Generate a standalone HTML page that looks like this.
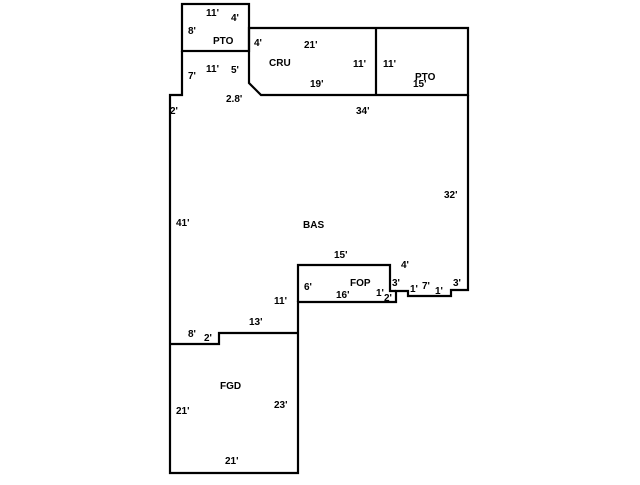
<!DOCTYPE html>
<html><head><style>body{margin:0;background:#fff}svg text{font-family:"Liberation Sans",sans-serif;font-weight:bold;font-size:10px;fill:#000}</style></head>
<body><svg width="640" height="480" viewBox="0 0 640 480" xmlns="http://www.w3.org/2000/svg">
<g fill="none" stroke="#000" stroke-width="2.2">
<rect x="182" y="4" width="67" height="47"/>
<path d="M249 28 H468 V95 H261 L249 83 Z"/>
<line x1="376" y1="28" x2="376" y2="95"/>
<path d="M182 51 V95 H170 V473 H298 V302 H396 V291 H408 V296 H451 V290 H468 V95"/>
<path d="M170 344 H219 V333 H298"/>
<path d="M298 302 V265 H390 V291 H396"/>
</g>
<text x="206" y="16">11'</text><text x="231" y="21">4'</text>
<text x="188" y="34">8'</text><text x="213" y="44">PTO</text>
<text x="206" y="72">11'</text><text x="231" y="73">5'</text>
<text x="188" y="79">7'</text>
<text x="254" y="46">4'</text><text x="304" y="48">21'</text>
<text x="269" y="66">CRU</text><text x="353" y="67">11'</text>
<text x="310" y="87">19'</text><text x="383" y="67">11'</text>
<text x="415" y="80">PTO</text><text x="413" y="87">15'</text>
<text x="226" y="102">2.8'</text><text x="170" y="114">2'</text>
<text x="356" y="114">34'</text>
<text x="444" y="198">32'</text>
<text x="176" y="226">41'</text><text x="303" y="228">BAS</text>
<text x="334" y="258">15'</text><text x="401" y="268">4'</text>
<text x="304" y="290">6'</text><text x="350" y="286">FOP</text>
<text x="336" y="298">16'</text><text x="376" y="296">1'</text><text x="384" y="301">2'</text>
<text x="392" y="286">3'</text><text x="410" y="292">1'</text><text x="422" y="289">7'</text>
<text x="435" y="294">1'</text><text x="453" y="286">3'</text>
<text x="274" y="304">11'</text><text x="249" y="325">13'</text>
<text x="188" y="337">8'</text><text x="204" y="341">2'</text>
<text x="220" y="389">FGD</text><text x="274" y="408">23'</text>
<text x="176" y="414">21'</text><text x="225" y="464">21'</text>
</svg></body></html>
